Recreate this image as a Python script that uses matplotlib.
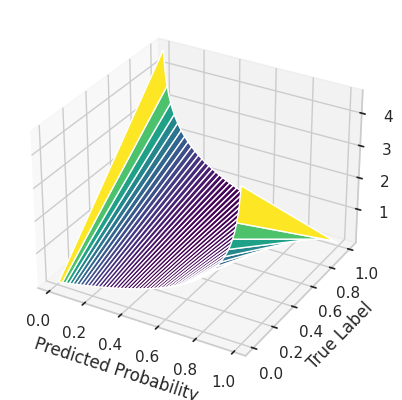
import numpy as np
import matplotlib
matplotlib.use("Agg")
import matplotlib.pyplot as plt
import seaborn as sns

sns.set_theme(style="whitegrid")

p_values = np.linspace(0.01, 0.99, 99)
y_values = np.array([0.0, 1.0])
z_ticks = [1, 2, 3, 4]

P, Y = np.meshgrid(p_values, y_values)
Z = -(Y * np.log(P) + (1 - Y) * np.log(1 - P))

fig = plt.figure(figsize=(6.4, 4.8), dpi=100)
ax = fig.add_subplot(111, projection="3d")
ax.plot_surface(P, Y, Z, cmap="viridis", edgecolor="white")
ax.set_xlabel("Predicted Probability")
ax.set_ylabel("True Label")
zlim = ax.get_zlim()
ax.set_zticks(z_ticks)
ax.set_zlim(zlim)
fig.savefig("out.png", dpi=100, bbox_inches="tight")
